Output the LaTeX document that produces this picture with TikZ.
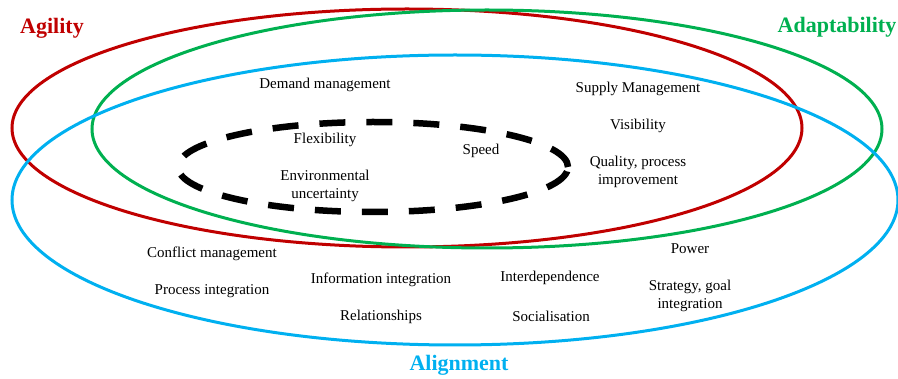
\documentclass[tikz,border=0pt]{standalone}
\usepackage{fontspec}
\setmainfont{Liberation Serif}
\usepackage{tikz}
\definecolor{agilityred}{RGB}{192,0,0}
\definecolor{adaptgreen}{RGB}{0,176,80}
\definecolor{alignblue}{RGB}{0,176,240}
\tikzstyle{ring} = [draw, line width=3pt]
\tikzstyle{core} = [draw, black, line width=6.5pt, dash pattern=on 26pt off 21pt]
\tikzstyle{factor} = [font=\fontsize{15}{18.5}\selectfont, align=center, inner sep=0pt]
\tikzstyle{heading} = [font=\fontsize{22}{24}\selectfont\bfseries, inner sep=0pt]

\begin{document}
\begin{tikzpicture}[x=1pt,y=-1pt]
	\useasboundingbox (0,0) rectangle (898,379);
	
	% ------------------- Outer ellipses ------------------- %
	\draw[ring, agilityred] (407,128) ellipse [x radius=395pt, y radius=119pt];
	\draw[ring, adaptgreen] (487,129) ellipse [x radius=395pt, y radius=119pt];
	\draw[ring, alignblue] (455,200) ellipse [x radius=443pt, y radius=145pt];
	
	% ------------------- Dashed core ------------------- %
	\draw[core] (373,167) ellipse [x radius=195pt, y radius=45pt];
	
	% ------------------- Headings ------------------- %
	\node[heading, agilityred] (agility) at (52,28) {Agility};
	\node[heading, adaptgreen] (adaptability) at (837,27) {Adaptability};
	\node[heading, alignblue] (alignment) at (459,365) {Alignment};
	
	% ------------------- Agility / adaptability ------------------- %
	\node[factor] (demand) at (325,85) {Demand management};
	\node[factor] (supply) at (638,89) {Supply Management};
	\node[factor] (visibility) at (638,126) {Visibility};
	\node[factor] (quality) at (638,172) {Quality, process\\improvement};
	
	% ------------------- Core ------------------- %
	\node[factor] (flexibility) at (325,140) {Flexibility};
	\node[factor] (uncertainty) at (325,186) {Environmental\\uncertainty};
	\node[factor] (speed) at (481,151) {Speed};
	
	% ------------------- Alignment ------------------- %
	\node[factor] (conflict) at (212,254) {Conflict management};
	\node[factor] (process) at (212,291) {Process integration};
	\node[factor] (information) at (381,280) {Information integration};
	\node[factor] (relationships) at (381,317) {Relationships};
	\node[factor] (interdependence) at (550,278) {Interdependence};
	\node[factor] (socialisation) at (551,316) {Socialisation};
	\node[factor] (power) at (690,249) {Power};
	\node[factor] (strategy) at (690,296) {Strategy, goal\\integration};
	
\end{tikzpicture}
\end{document}
